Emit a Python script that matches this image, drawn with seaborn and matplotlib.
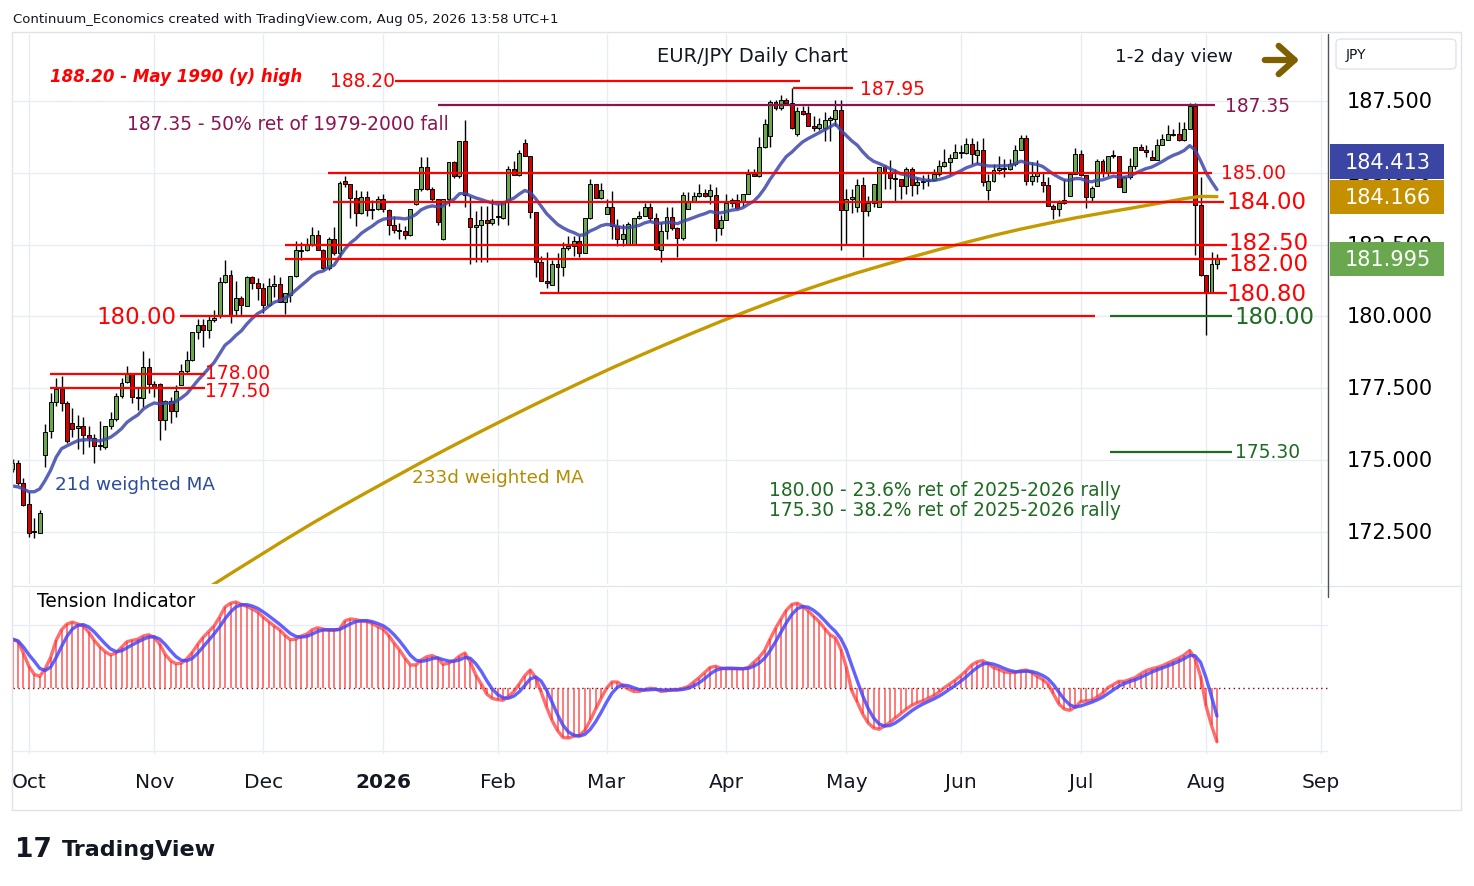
import numpy as np
import pandas as pd
import seaborn as sns
import matplotlib
matplotlib.use("Agg")
from matplotlib import pyplot as plt
from matplotlib.patches import Rectangle, FancyBboxPatch
from matplotlib.lines import Line2D

# EUR/JPY daily candles, 26 Sep 2025 .. 05 Aug 2026
opens = [174.70, 174.89, 174.20, 173.47, 172.50, 172.48, 175.18, 176.00, 177.04, 177.48,
         176.98, 176.30, 176.12, 176.20, 175.88, 175.78, 175.50, 175.45, 176.20, 176.43,
         177.23, 177.72, 178.00, 177.20, 177.15, 178.25, 177.65, 177.65, 176.40, 177.05,
         176.70, 177.63, 178.10, 178.48, 179.45, 179.71, 179.54, 179.86, 180.00, 181.21,
         181.46, 180.23, 180.63, 180.38, 181.36, 181.15, 181.00, 180.40, 181.06, 181.12,
         180.52, 180.75, 181.41, 182.28, 182.33, 182.51, 182.83, 182.31, 181.67, 182.68,
         182.20, 184.73, 184.60, 184.13, 183.60, 184.17, 183.72, 183.73, 184.10, 183.70,
         183.19, 183.02, 182.96, 182.84, 183.90, 184.42, 185.21, 184.45, 184.08, 182.70,
         184.08, 185.38, 184.88, 186.12, 183.44, 183.10, 183.20, 183.35, 183.24, 183.50,
         183.44, 184.02, 185.14, 184.91, 186.04, 185.60, 183.62, 181.89, 181.25, 181.10,
         181.83, 181.71, 182.37, 182.46, 182.64, 182.21, 183.41, 184.60, 184.13, 183.56,
         183.81, 183.15, 182.69, 182.52, 182.52, 183.41, 183.48, 183.82, 183.42, 182.30,
         182.96, 183.46, 183.08, 182.73, 183.75, 184.00, 184.19, 184.29, 184.18, 184.21,
         183.08, 183.37, 183.95, 184.04, 183.97, 184.25, 184.97, 184.88, 185.89, 186.27,
         187.46, 187.25, 187.55, 187.43, 186.36, 187.14, 187.09, 186.62, 186.55, 186.55,
         186.84, 186.88, 187.20, 183.69, 184.10, 183.80, 184.56, 183.67, 183.96, 183.81,
         185.20, 185.02, 184.81, 184.79, 184.54, 185.14, 184.56, 184.68, 184.70, 184.76,
         184.97, 185.25, 185.39, 185.50, 185.74, 185.70, 186.00, 185.63, 185.80, 184.39,
         184.70, 185.10, 185.12, 185.14, 185.30, 185.80, 186.20, 184.73, 184.88, 184.68,
         184.58, 183.84, 183.73, 183.95, 184.19, 184.97, 185.65, 184.94, 184.15, 184.54,
         185.41, 185.02, 185.58, 185.58, 184.33, 184.85, 185.25, 185.89, 185.80, 185.55,
         185.46, 185.95, 186.13, 186.36, 186.36, 186.13, 186.51, 187.34, 183.89, 181.43,
         180.85, 181.83]
highs = [175.05, 175.00, 174.37, 173.90, 172.98, 173.27, 176.25, 177.35, 177.87, 177.92,
         177.05, 176.80, 176.56, 176.50, 176.20, 175.90, 176.35, 176.20, 176.66, 177.35,
         177.87, 178.28, 178.05, 177.50, 178.80, 178.55, 177.75, 177.70, 177.10, 177.20,
         177.60, 178.35, 178.80, 179.45, 179.90, 179.90, 180.00, 180.23, 181.38, 181.96,
         181.60, 181.23, 180.70, 181.41, 181.40, 181.33, 181.15, 181.35, 181.44, 181.38,
         180.83, 181.41, 182.63, 182.60, 182.72, 183.13, 183.00, 182.35, 182.75, 183.13,
         184.71, 184.90, 184.62, 184.40, 184.38, 184.38, 184.05, 184.20, 184.26, 183.75,
         183.50, 183.26, 183.15, 183.73, 184.42, 185.54, 185.54, 184.50, 184.10, 184.08,
         185.38, 185.40, 186.12, 186.85, 184.20, 183.68, 183.85, 183.85, 184.08, 183.90,
         184.02, 185.23, 185.40, 185.80, 186.18, 185.60, 183.62, 182.10, 182.26, 181.95,
         182.20, 182.59, 182.80, 182.80, 182.80, 183.44, 184.77, 184.60, 184.66, 184.09,
         184.37, 183.38, 183.21, 183.29, 183.41, 183.67, 183.94, 183.94, 183.60, 183.30,
         183.80, 183.80, 183.10, 184.33, 184.33, 184.33, 184.62, 184.45, 184.62, 184.50,
         183.52, 184.27, 184.12, 184.27, 184.27, 185.14, 185.14, 186.24, 186.88, 187.52,
         187.52, 187.71, 187.60, 187.95, 187.28, 187.34, 187.34, 186.97, 186.92, 187.10,
         186.99, 187.55, 187.55, 184.45, 184.45, 184.79, 184.85, 184.20, 184.62, 185.20,
         185.28, 185.46, 185.14, 184.79, 185.20, 185.20, 184.86, 184.93, 184.95, 185.14,
         185.43, 185.84, 185.66, 186.00, 185.95, 186.21, 186.21, 186.10, 186.20, 184.97,
         185.31, 185.60, 185.49, 185.49, 185.95, 186.32, 186.32, 185.37, 185.43, 185.02,
         184.86, 183.92, 184.07, 184.80, 184.97, 185.85, 185.78, 184.94, 184.55, 185.49,
         185.49, 185.58, 185.81, 185.60, 184.90, 185.50, 185.89, 186.00, 185.96, 185.78,
         186.16, 186.36, 186.65, 186.53, 186.76, 186.76, 187.43, 187.43, 184.85, 181.45,
         182.24, 182.17]
lows = [174.60, 174.15, 173.40, 172.33, 172.30, 172.45, 174.75, 175.77, 176.90, 176.70,
        175.60, 175.80, 175.40, 175.20, 175.45, 174.90, 175.35, 175.38, 176.10, 176.36,
        177.15, 177.68, 177.00, 176.76, 176.85, 177.35, 177.20, 175.70, 176.05, 176.30,
        176.50, 177.60, 178.00, 178.45, 179.20, 178.95, 179.25, 179.80, 179.95, 181.15,
        179.77, 180.06, 180.06, 180.35, 180.95, 180.58, 180.12, 180.35, 180.69, 180.50,
        180.08, 180.52, 181.38, 181.96, 182.28, 182.45, 182.31, 181.60, 181.60, 182.15,
        182.00, 184.50, 183.44, 183.15, 183.55, 183.50, 183.40, 183.70, 183.65, 182.82,
        182.90, 182.70, 182.70, 182.80, 183.88, 184.38, 184.40, 183.97, 183.20, 182.65,
        183.85, 184.82, 184.82, 183.80, 181.83, 181.90, 181.90, 181.90, 183.20, 183.20,
        183.40, 183.20, 184.91, 184.88, 185.60, 183.44, 181.37, 181.25, 181.00, 181.08,
        180.85, 181.41, 182.30, 182.11, 182.07, 182.20, 183.39, 184.13, 184.10, 183.56,
        182.71, 182.46, 182.46, 182.52, 182.52, 183.38, 183.48, 183.33, 182.30, 181.90,
        182.70, 183.00, 182.07, 182.65, 183.75, 183.98, 184.15, 184.15, 183.90, 182.61,
        182.84, 183.37, 183.80, 183.75, 183.85, 184.25, 184.88, 184.85, 185.85, 185.90,
        187.20, 187.20, 187.40, 186.52, 186.28, 187.00, 186.62, 186.45, 186.50, 186.10,
        186.10, 186.62, 182.30, 182.50, 183.60, 183.65, 182.07, 183.50, 183.80, 183.80,
        184.45, 184.45, 184.03, 184.10, 184.25, 184.20, 184.25, 184.45, 184.55, 184.70,
        184.90, 185.20, 184.93, 185.50, 185.50, 185.66, 185.32, 185.32, 184.54, 184.04,
        184.68, 184.97, 184.86, 185.08, 185.25, 185.80, 184.56, 184.56, 184.68, 184.33,
        183.83, 183.40, 183.48, 183.93, 184.19, 184.97, 184.90, 183.79, 183.98, 184.54,
        184.85, 184.90, 185.53, 184.50, 184.33, 184.79, 185.13, 185.78, 185.55, 185.43,
        185.43, 185.95, 186.13, 186.27, 186.10, 186.10, 186.51, 182.15, 181.42, 179.35,
        180.85, 181.65]
closes = [174.90, 174.20, 173.45, 172.48, 172.55, 173.16, 175.98, 177.04, 177.48, 176.98,
          175.67, 176.10, 176.20, 175.88, 175.78, 175.50, 175.52, 176.20, 176.43, 177.23,
          177.70, 178.00, 177.20, 177.15, 178.25, 177.65, 177.50, 176.40, 177.05, 176.70,
          177.40, 178.10, 178.48, 179.45, 179.71, 179.54, 179.86, 179.94, 181.21, 181.46,
          180.03, 180.63, 180.40, 181.36, 181.15, 181.00, 180.40, 181.06, 181.12, 180.52,
          180.81, 181.41, 182.31, 182.33, 182.51, 182.83, 182.31, 181.67, 182.68, 182.20,
          184.63, 184.60, 184.13, 183.60, 184.17, 183.70, 183.70, 184.10, 183.73, 183.19,
          183.02, 182.96, 182.84, 183.73, 184.42, 185.21, 184.45, 184.08, 183.30, 184.08,
          185.38, 184.88, 186.12, 184.22, 183.10, 183.20, 183.35, 183.24, 183.39, 183.45,
          184.02, 185.14, 184.91, 185.70, 185.60, 183.62, 181.89, 181.25, 181.17, 181.83,
          181.71, 182.37, 182.46, 182.64, 182.21, 183.41, 184.60, 184.13, 184.39, 183.81,
          183.15, 182.69, 182.87, 183.21, 183.41, 183.48, 183.82, 183.41, 182.36, 182.96,
          183.46, 183.08, 182.73, 184.21, 183.98, 184.19, 184.29, 184.18, 184.39, 183.08,
          183.37, 183.95, 184.04, 183.77, 184.25, 184.97, 184.88, 185.89, 186.70, 187.46,
          187.25, 187.55, 187.43, 186.55, 187.14, 187.05, 186.62, 186.55, 186.70, 186.84,
          186.90, 187.20, 183.69, 184.10, 184.15, 184.56, 183.67, 183.96, 184.62, 185.20,
          185.02, 184.81, 184.77, 184.54, 185.14, 184.56, 184.68, 184.72, 184.76, 184.97,
          185.25, 185.39, 185.52, 185.72, 185.70, 186.00, 185.66, 185.80, 184.68, 184.70,
          185.08, 185.16, 185.17, 185.30, 185.80, 186.20, 184.73, 184.88, 185.00, 184.56,
          183.83, 183.73, 183.95, 184.07, 184.97, 185.65, 184.94, 184.15, 184.48, 185.41,
          185.00, 185.58, 185.58, 184.52, 184.85, 185.25, 185.89, 185.80, 185.72, 185.46,
          185.95, 186.16, 186.36, 186.30, 186.13, 186.51, 187.34, 183.89, 181.45, 180.85,
          181.83, 181.995]

# 21d weighted MA over the first bars (its history starts before the chart)
ma21_head = [174.10, 174.07, 174.00, 173.90, 173.90, 174.00, 174.30, 174.65, 175.10, 175.40]

# tension indicator (red histogram / line)
tension = [0.78, 0.74, 0.56, 0.35, 0.22, 0.19, 0.31, 0.49, 0.76, 0.93,
           1.02, 1.05, 1.02, 0.99, 0.89, 0.76, 0.66, 0.58, 0.53, 0.56,
           0.65, 0.74, 0.76, 0.78, 0.83, 0.85, 0.81, 0.70, 0.54, 0.44,
           0.39, 0.40, 0.47, 0.57, 0.70, 0.81, 0.90, 0.99, 1.13, 1.29,
           1.35, 1.37, 1.33, 1.30, 1.26, 1.21, 1.13, 1.06, 0.99, 0.93,
           0.84, 0.77, 0.78, 0.83, 0.86, 0.93, 0.96, 0.94, 0.92, 0.92,
           0.94, 1.07, 1.10, 1.09, 1.07, 1.06, 1.03, 0.98, 0.94, 0.84,
           0.72, 0.61, 0.48, 0.37, 0.37, 0.45, 0.50, 0.52, 0.48, 0.38,
           0.40, 0.44, 0.51, 0.56, 0.42, 0.21, 0.07, -0.09, -0.16, -0.18,
           -0.19, -0.13, -0.05, 0.07, 0.20, 0.29, 0.17, -0.06, -0.30, -0.51,
           -0.67, -0.78, -0.79, -0.76, -0.75, -0.67, -0.51, -0.33, -0.16, 0.00,
           0.10, 0.10, 0.04, -0.01, -0.05, -0.05, -0.02, 0.00, -0.01, -0.05,
           -0.04, -0.02, -0.02, 0.00, 0.03, 0.10, 0.17, 0.25, 0.33, 0.35,
           0.32, 0.31, 0.31, 0.31, 0.31, 0.33, 0.41, 0.49, 0.60, 0.78,
           0.95, 1.10, 1.24, 1.33, 1.35, 1.30, 1.23, 1.14, 1.06, 0.95,
           0.85, 0.80, 0.62, 0.33, -0.04, -0.22, -0.41, -0.55, -0.63, -0.65,
           -0.60, -0.54, -0.47, -0.40, -0.33, -0.27, -0.23, -0.20, -0.16, -0.12,
           -0.06, 0.01, 0.07, 0.13, 0.20, 0.28, 0.37, 0.42, 0.44, 0.39,
           0.33, 0.30, 0.26, 0.25, 0.25, 0.28, 0.29, 0.25, 0.19, 0.14,
           0.07, -0.09, -0.25, -0.33, -0.35, -0.30, -0.21, -0.20, -0.19, -0.14,
           -0.08, 0.01, 0.06, 0.11, 0.11, 0.14, 0.17, 0.23, 0.28, 0.31,
           0.33, 0.36, 0.40, 0.44, 0.48, 0.53, 0.60, 0.47, 0.19, -0.28,
           -0.59, -0.85]

# 233d weighted MA, read weekly (bar number, value)
ma233_bars = [35, 40, 45, 50, 55, 60, 65, 70, 75, 80, 85, 90, 95, 100, 105, 110, 115, 120,
              125, 130, 135, 140, 145, 150, 155, 160, 165, 170, 175, 180, 185, 190, 195,
              200, 205, 210, 215, 218, 221]
ma233_vals = [170.45, 171.05, 171.64, 172.23, 172.80, 173.35, 173.88, 174.40, 174.92, 175.42,
              175.91, 176.39, 176.86, 177.32, 177.77, 178.21, 178.63, 179.04, 179.44, 179.83,
              180.20, 180.56, 180.90, 181.22, 181.52, 181.80, 182.07, 182.33, 182.58, 182.82,
              183.04, 183.24, 183.43, 183.60, 183.76, 183.93, 184.10, 184.18, 184.17]

month_labels = ['Oct', 'Nov', 'Dec', '2026', 'Feb', 'Mar', 'Apr', 'May', 'Jun', 'Jul', 'Aug', 'Sep']
price_ticks = [172.5, 175.0, 177.5, 180.0, 182.5, 185.0, 187.5]
last_values = [181.995, 184.166, 184.413]
last_colors = ['#6aa84f', '#c49000', '#3b45a3']

W, H = 1474, 887
RED = '#ff0000'
PURPLE = '#8a1550'
DKGREEN = '#1e6b22'
GRID = '#e8edf3'
INK = '#131722'


def fx(px):
    return px / W


def fy(py):
    return 1 - py / H


def jx(px):
    # pixel column -> bar number
    return (px - 12.5) / 5.45


def axf(px):
    return (px - 13) / (1328 - 13)


def wma(values, n):
    out = []
    for i in range(len(values)):
        w = np.asarray(values[max(0, i - n + 1):i + 1])
        k = np.arange(1, len(w) + 1)
        out.append(np.dot(w, k) / k.sum())
    return np.array(out)


sns.set_theme(style='white')
plt.rcParams['font.family'] = ['DejaVu Sans']

days = pd.bdate_range('2025-09-26', '2026-09-04')
days = days[~days.isin(pd.to_datetime(['2025-12-25', '2026-01-01']))]
pos = pd.Series(np.arange(len(days)), index=days)
month_first = pos.groupby([days.year, days.month]).first().values[1:]

idx = np.arange(len(closes))
o, h, l, c = map(np.array, (opens, highs, lows, closes))
ma21 = wma(c, 21)
ma21[:len(ma21_head)] = ma21_head
tens = np.array(tension)
tens_sig = wma(tens, 5)

fig = plt.figure(figsize=(W / 100, H / 100), dpi=100)
ax = fig.add_axes([fx(13), fy(585), fx(1328) - fx(13), fy(35) - fy(585)])
ax2 = fig.add_axes([fx(13), fy(755), fx(1328) - fx(13), fy(590) - fy(755)])

for a in (ax, ax2):
    a.set_xlim(jx(13), jx(1328))
    for s in a.spines.values():
        s.set_visible(False)
    for m in month_first:
        a.axvline(m, color=GRID, lw=1, zorder=0)
ax.set_ylim(170.69, 189.83)
ax2.set_ylim(-1.043, 1.576)
for p in price_ticks:
    ax.axhline(p, color=GRID, lw=1, zorder=0)
for g in (-1, 1):
    ax2.axhline(g, color=GRID, lw=1, zorder=0)

# candles
up = c >= o
ax.vlines(idx, l, h, color='black', lw=1, zorder=2)
body = np.maximum(np.abs(c - o), 0.03)
ax.bar(idx, body, bottom=np.minimum(o, c), width=0.72,
       color=np.where(up, '#6aa84f', '#d40000'), edgecolor='black', linewidth=0.7, zorder=3)

# moving averages
sns.lineplot(x=idx, y=ma21, ax=ax, color='#3d48aa', linewidth=2.4, alpha=0.85, zorder=4,
             legend=False, errorbar=None)
sns.lineplot(x=ma233_bars, y=ma233_vals, ax=ax, color='#c49a00', linewidth=2.4, zorder=4,
             legend=False, errorbar=None)

# level lines and their labels
levels = [
    (188.20, 395, 800, RED), (187.95, 793, 853, RED), (187.35, 438, 1215, PURPLE),
    (185.00, 328, 1212, RED), (184.00, 333, 1224, RED), (182.50, 285, 1227, RED),
    (182.00, 285, 1227, RED), (180.80, 540, 1227, RED), (180.00, 180, 1095, RED),
    (180.00, 1110, 1232, DKGREEN), (175.30, 1110, 1232, DKGREEN),
    (178.00, 50, 205, RED), (177.50, 50, 205, RED),
]
for lev, x0, x1, col in levels:
    ax.hlines(lev, jx(x0), jx(x1), color=col, lw=1.6, zorder=5)

big, small = 16.5, 13.4
labels = [
    ('188.20', 188.20, 395, 'right', small, RED),
    ('187.95', 187.95, 860, 'left', small, RED),
    ('187.35', 187.35, 1225, 'left', small, PURPLE),
    ('185.00', 185.00, 1221, 'left', small, RED),
    ('184.00', 184.00, 1226, 'left', big, RED),
    ('182.50', 182.58, 1228, 'left', big, RED),
    ('182.00', 181.85, 1228, 'left', big, RED),
    ('180.80', 180.80, 1226, 'left', big, RED),
    ('180.00', 180.00, 176, 'right', big, RED),
    ('180.00', 180.00, 1234, 'left', big, DKGREEN),
    ('175.30', 175.30, 1235, 'left', small, DKGREEN),
    ('178.00', 178.04, 205, 'left', small, RED),
    ('177.50', 177.43, 205, 'left', small, RED),
]
for txt, yv, px, ha, fs, col in labels:
    ax.text(jx(px), yv, txt, ha=ha, va='center', fontsize=fs, color=col, zorder=6)

ax.text(jx(50), 188.36, '188.20 - May 1990 (y) high', color=RED, fontsize=12,
        style='italic', fontweight='bold', va='center')
ax.text(jx(127), 186.72, '187.35 - 50% ret of 1979-2000 fall', color=PURPLE, fontsize=13.4,
        va='center')
ax.text(jx(55), 174.18, '21d weighted MA', color='#2c4b9a', fontsize=13.2, va='center')
ax.text(jx(412), 174.43, '233d weighted MA', color='#b58c00', fontsize=13.2, va='center')
ax.text(jx(769), 173.97, '180.00 - 23.6% ret of 2025-2026 rally', color=DKGREEN,
        fontsize=13.4, va='center')
ax.text(jx(769), 173.28, '175.30 - 38.2% ret of 2025-2026 rally', color=DKGREEN,
        fontsize=13.4, va='center')
fig.text(fx(752), fy(56), 'EUR/JPY Daily Chart', ha='center', va='center', fontsize=14,
         color=INK)
fig.text(fx(1174), fy(57), '1-2 day view', ha='center', va='center', fontsize=13.2, color=INK)
ax.annotate('', xy=(fx(1302), fy(61)), xytext=(fx(1262), fy(61)), xycoords='figure fraction',
            arrowprops=dict(arrowstyle='->,head_length=0.95,head_width=0.85', lw=4.5,
                            color='#7f6000'))

# right price scale
for p in price_ticks:
    ax.text(axf(1390), p, f'{p:.3f}', transform=ax.get_yaxis_transform(), ha='center',
            va='center', fontsize=15, color='black', clip_on=False, zorder=5)
placed = []
for v in sorted(last_values):
    yv = v if not placed else max(v, placed[-1] + 1.22)
    placed.append(yv)
for v, yv, col in zip(last_values, placed, last_colors):
    ax.add_patch(Rectangle((axf(1330), yv - 0.6), axf(1444) - axf(1330), 1.2,
                           transform=ax.get_yaxis_transform(), fc=col, ec='none',
                           clip_on=False, zorder=6))
    ax.text(axf(1388), yv, f'{v:.3f}', transform=ax.get_yaxis_transform(), ha='center',
            va='center', fontsize=15, color='white', clip_on=False, zorder=7)

# tension indicator
ax2.vlines(idx, 0, tens, color='#ff4040', lw=1.3, alpha=0.75, zorder=2)
sns.lineplot(x=idx, y=tens, ax=ax2, color='#ff3030', linewidth=2.4, alpha=0.7, zorder=3,
             legend=False, errorbar=None)
sns.lineplot(x=idx, y=tens_sig, ax=ax2, color='#4646ff', linewidth=2.4, alpha=0.85, zorder=4,
             legend=False, errorbar=None)
ax2.axhline(0, color='#8b0000', ls=(0, (1, 2.5)), lw=1, zorder=1)

for a in (ax, ax2):
    a.set_ylabel('')
    a.set_yticks([])
ax.set_xticks([])
ax2.set_xticks(month_first)
ax2.set_xticklabels(month_labels)
ax2.tick_params(axis='x', length=0, pad=13, labelsize=14.5, labelcolor=INK)
for t in ax2.get_xticklabels():
    if t.get_text() == '2026':
        t.set_fontweight('bold')
ax2.set_xlabel('')

fig.text(fx(37), fy(602), 'Tension Indicator', fontsize=13.4, color='black', va='center')
fig.text(fx(13), fy(19), 'Continuum_Economics created with TradingView.com, Aug 05, 2026 13:58 UTC+1',
         fontsize=9.5, color=INK, va='center')

# frame, scale separator, currency box, logo
fig.add_artist(Rectangle((fx(12), fy(811)), fx(1461) - fx(12), fy(33) - fy(811),
                         transform=fig.transFigure, fc='none', ec='#dfe3e8', lw=1))
fig.add_artist(Line2D([fx(13), fx(1461)], [fy(587), fy(587)], color='#e3e7ec', lw=1))
fig.add_artist(Line2D([fx(1328), fx(1328)], [fy(35), fy(598)], color='#50535e', lw=1))
fig.add_artist(FancyBboxPatch((fx(1336), fy(70)), fx(1456) - fx(1336), fy(40) - fy(70),
                              boxstyle='round,pad=0,rounding_size=0.004',
                              transform=fig.transFigure, fc='white', ec='#e0e3eb', lw=1))
fig.text(fx(1346), fy(55), 'JPY', fontsize=10, color=INK, va='center')
fig.text(fx(15), fy(850), '17', fontsize=19, fontweight='heavy', color=INK, va='center')
fig.text(fx(62), fy(850), 'TradingView', fontsize=16, fontweight='bold', color=INK, va='center')

fig.savefig('out.png', dpi=100)
